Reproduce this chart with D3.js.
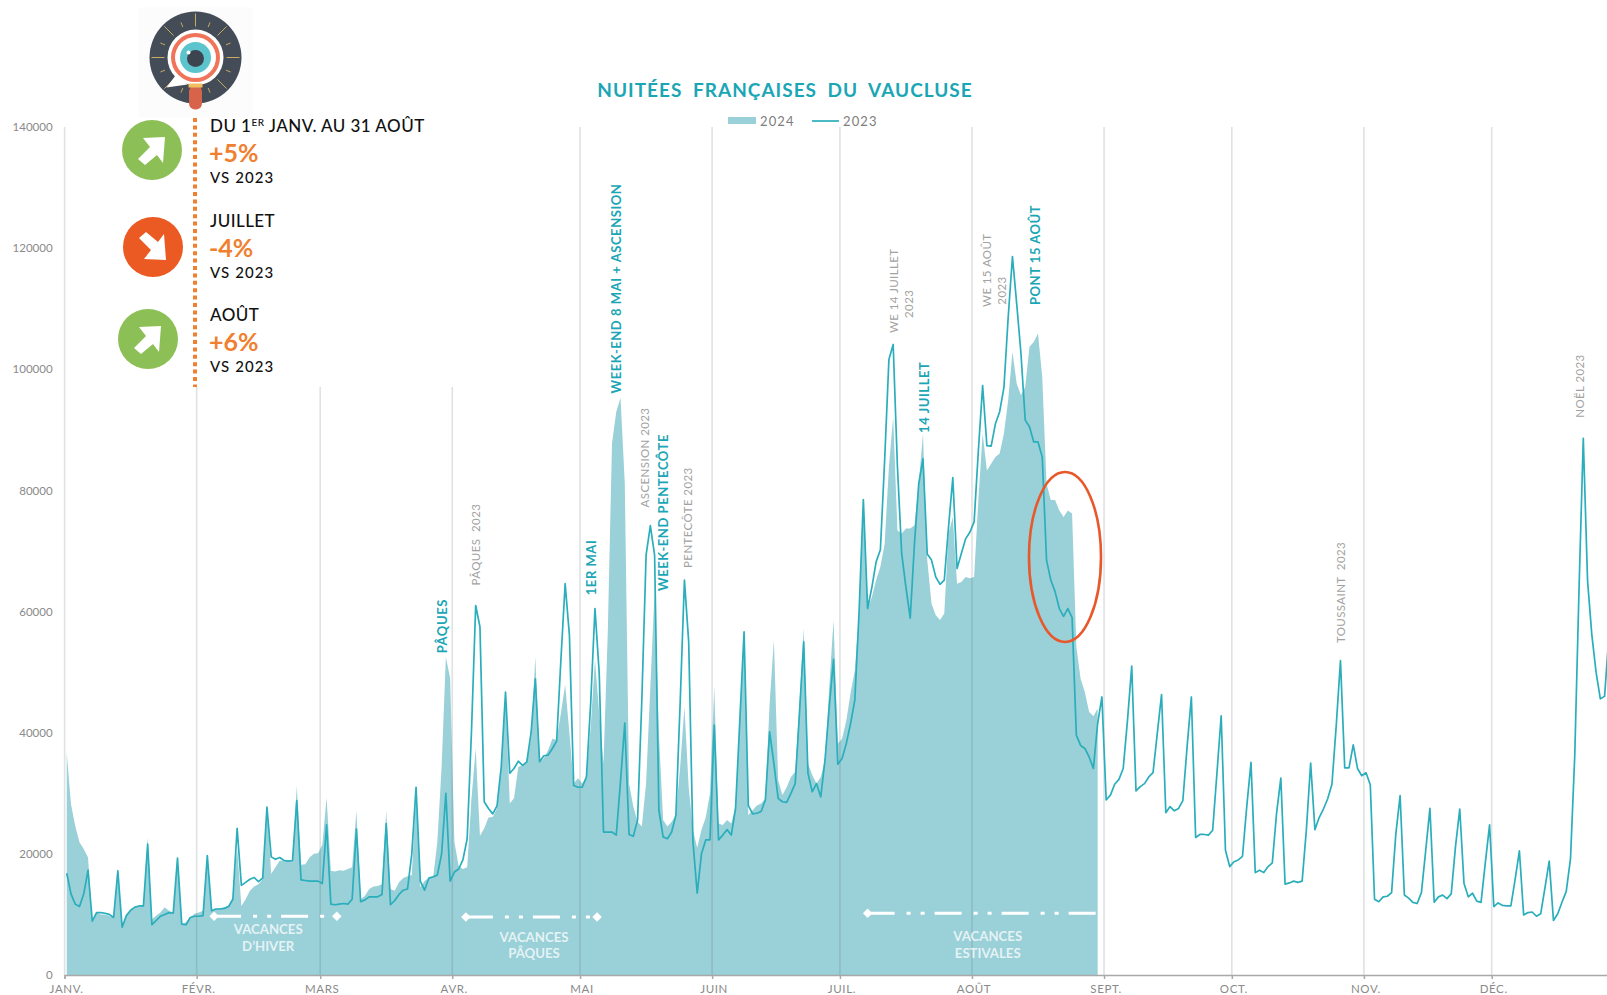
<!DOCTYPE html>
<html><head><meta charset="utf-8">
<script src="https://cdn.jsdelivr.net/npm/d3@7/dist/d3.min.js"></script>
<style>html,body{margin:0;padding:0;background:#fff;overflow:hidden}svg{display:block}text{font-family:Lato,"Open Sans",sans-serif}</style>
</head><body><div id="c"></div>
<script>
// Daily values, index 0 = 1 Jan
const line2023 = [16800,13400,11700,11300,13400,17300,8900,10300,10300,10200,10000,9500,17200,7900,9800,10700,11200,11400,11400,21600,8300,9000,9700,10000,10300,10200,19300,8400,8300,9500,9700,9700,9800,19700,10600,10900,10900,11000,11300,12500,24200,14800,15300,15800,16100,15400,16000,27700,19500,19100,19400,18900,18800,18900,28800,15700,15600,15500,15500,15500,15100,24800,11700,11600,11700,11800,11700,12500,24100,12100,12400,12900,12900,12900,13300,25000,11600,12300,13300,14000,14200,20000,31000,15500,14000,16000,16200,16500,20000,30000,15500,17000,17500,19000,22500,40000,61000,57500,28600,27500,26600,27900,34400,46700,33300,34100,35300,34600,35200,40000,48900,35200,36200,36300,37400,38600,52000,64600,56100,31300,31000,31000,32700,45000,60500,49800,23600,23600,23600,23100,32000,41600,23200,22900,25600,45400,69300,74200,69300,27200,22800,22500,23600,26400,45000,65200,55000,22000,13500,20000,22300,22300,41250,22300,23100,24000,23100,27500,42000,56650,28000,26600,26700,27000,28900,40150,34900,29150,28600,28500,30000,31600,43200,55000,33300,30250,31600,29400,35500,44300,52100,34800,35750,38200,41500,45400,60000,78500,60500,64000,68200,70200,85000,101600,104100,83900,69600,64000,58900,71200,81100,85200,69500,68500,65700,64500,65200,74000,82100,67100,69600,72000,73100,74800,86600,97300,87400,87300,91000,93000,97000,108600,118600,110800,102600,91600,90500,88000,88000,85500,68500,65200,63300,60500,59200,60500,59000,39600,37900,37400,36000,34100,41500,45900,28900,29700,31500,32300,34100,42000,51000,30400,31100,31600,32700,33400,39900,46300,26800,27800,27100,27500,28800,37700,45900,22700,23200,23200,23100,23900,33300,42800,20600,17900,18700,19000,19600,27800,35100,16900,17300,16900,17900,18500,26700,32500,15000,15200,15500,15300,15500,24000,35000,24000,26000,27400,29100,31500,41100,51900,34200,34200,38000,34100,32900,33400,31400,12500,12100,12900,13000,13600,23300,29600,13200,12700,12000,11800,13600,20500,27500,12000,12900,13200,12600,13400,21200,27400,15100,12900,13500,12200,12000,18500,24800,11300,11900,11500,11400,11400,15800,20500,9900,10300,10400,9700,10100,14400,18800,9000,10100,12000,13800,19200,36300,63700,88600,65100,56200,50000,45600,46000,56000];
const area2024 = [36700,28200,24600,21900,20800,19400,8900,10300,10000,10000,9800,9500,16700,7900,9800,10600,11100,11400,11400,22700,9200,9800,10300,11200,10600,10300,18600,8400,8700,9500,10100,10300,10600,19400,10700,10900,11000,11200,11400,12800,21000,11400,12500,13900,14600,15000,15800,27900,16700,17800,18900,18800,18900,18900,31200,18200,18300,19400,20000,20100,21500,29300,17200,17100,17300,17200,17500,17800,27100,12500,13100,14200,14600,14700,15000,27100,14200,13900,15300,16000,16300,16500,30000,14500,15500,16000,16000,22000,34400,52500,49000,22000,18000,17500,17800,29000,37400,23000,24200,26000,26100,27500,34000,45900,28300,29200,34400,34600,35200,39000,52500,35200,35800,37100,39000,38800,43200,47900,39900,31600,32500,31600,32700,41000,52000,43200,34900,56400,87800,93000,95300,81200,31600,27800,25300,24500,31600,47600,63500,39900,25600,24500,25300,26400,34400,44300,31000,23900,21000,24000,26000,30000,47600,25000,24750,25600,25000,27800,42000,56650,26400,27200,28000,28300,29150,44800,55300,32200,29700,31000,32700,33550,44800,57200,34900,33000,31600,32700,35500,47600,58600,38200,39000,42000,46500,50300,60000,78000,60500,62400,65200,67400,71200,83900,92100,73400,72900,73700,73700,74250,81100,89400,68500,61300,59400,58600,59700,72900,75600,64600,64900,65700,65500,65700,78400,89400,83300,84400,85500,86100,89400,94900,102900,97600,95700,97100,103700,104500,105900,98700,81100,78400,78400,76700,75600,76700,76200,54200,48900,46700,43400,42700,44000];
const monthStarts = [0,31,60,91,121,152,182,213,244,274,305,335];
const monthLabels = ["JANV.","FÉVR.","MARS","AVR.","MAI","JUIN","JUIL.","AOÛT","SEPT.","OCT.","NOV.","DÉC."];
const yTicks = [0,20000,40000,60000,80000,100000,120000,140000];
const holidays = [
  {text:"PÂQUES",day:88,value:53100,strong:true},
  {text:"PÂQUES  2023",day:96,value:64300},
  {text:"1ER MAI",day:123,value:62700,strong:true},
  {text:"WEEK-END 8 MAI + ASCENSION",day:129,value:96000,strong:true},
  {text:"ASCENSION 2023",day:135.7,value:77200},
  {text:"WEEK-END PENTECÔTE",day:140,value:63400,strong:true},
  {text:"PENTECÔTE 2023",day:145.7,value:67200},
  {text:"WE 14 JUILLET",day:194,value:106000},
  {text:"2023",day:197.6,value:110800,mid:true},
  {text:"14 JUILLET",day:201.2,value:89500,strong:true},
  {text:"WE 15 AOÛT",day:216,value:110300},
  {text:"2023",day:219.5,value:113000,mid:true},
  {text:"PONT 15 AOÛT",day:227.3,value:110600,strong:true},
  {text:"TOUSSAINT  2023",day:299,value:54800},
  {text:"NOËL 2023",day:355,value:92000}
];
const holidaySpans = [
  {lines:["VACANCES","D’HIVER"],from:34.6,to:63.4,value:9700,mid:47.3,v1:7600,v2:4800,ends:2},
  {lines:["VACANCES","PÂQUES"],from:93.7,to:124.5,value:9570,mid:109.7,v1:6350,v2:3600,ends:2},
  {lines:["VACANCES","ESTIVALES"],from:188,to:242,value:10200,mid:216.2,v1:6400,v2:3600,ends:1}
];
const seriesNames = ["2024","2023"];

const W=1607,H=995;
const svg=d3.select("#c").append("svg").attr("width",W).attr("height",H);
const x=d3.scaleLinear().domain([0,366]).range([64.6,64.6+366*4.26]);
const y=d3.scaleLinear().domain([0,140000]).range([975,127]);
const px=i=>x(i+0.5);

svg.append("path").datum(area2024).attr("fill","#9ad0d8")
  .attr("d",d3.area().x((d,i)=>px(i)).y0(y(0)).y1(d=>y(d)));

// month grid
svg.append("g").selectAll("line").data(monthStarts).join("line")
  .attr("x1",d=>x(d)).attr("x2",d=>x(d)).attr("y1",y(140000)).attr("y2",y(0))
  .attr("stroke","#5f6a6e").attr("stroke-opacity",.2).attr("stroke-width",1.6);

svg.append("path").datum(line2023).attr("fill","none").attr("stroke","#2aaebb").attr("stroke-width",1.7)
  .attr("stroke-linejoin","round")
  .attr("d",d3.line().x((d,i)=>px(i)).y(d=>y(d)));

// axes
const gx=svg.append("g").attr("transform",`translate(0,${y(0)})`)
  .call(d3.axisBottom(x).tickValues(monthStarts).tickFormat((d,i)=>monthLabels[i]).tickSize(4).tickPadding(6));
gx.selectAll("path,line").attr("stroke","#a9a9a9").attr("stroke-width",1.5);
gx.selectAll("text").attr("dx",1.5).attr("fill","#8a8a8a").style("font-size","11.5px").style("letter-spacing",".6px");
const gy=svg.append("g").attr("transform",`translate(${x(0)},0)`)
  .call(d3.axisLeft(y).tickValues(yTicks).tickFormat(d3.format("d")).tickSize(0).tickPadding(12));
gy.select("path").remove();
gy.selectAll("text").attr("fill","#8a8a8a").style("font-size","11.5px");

// panel mask
svg.append("rect").attr("x",72).attr("y",0).attr("width",400).attr("height",387).attr("fill","#fff");

// title & legend
svg.append("text").attr("x",785).attr("y",97).attr("text-anchor","middle").attr("fill","#1ba6b5")
  .style("font-size","19px").style("font-weight",700).style("letter-spacing","1px").style("word-spacing","5px")
  .text("NUITÉES FRANÇAISES DU VAUCLUSE");
svg.append("rect").attr("x",728).attr("y",117).attr("width",28).attr("height",7).attr("fill","#9ad0d8");
svg.append("line").attr("x1",812).attr("x2",839).attr("y1",121).attr("y2",121).attr("stroke","#2aaebb").attr("stroke-width",1.7);
svg.selectAll(".lg").data(seriesNames).join("text").attr("class","lg").attr("x",(d,i)=>i?843:760).attr("y",126)
  .attr("fill","#7d7d7d").style("font-size","13px").style("letter-spacing","1.1px").text(d=>d);

// holiday labels
holidays.forEach(h=>{
  svg.append("text").attr("transform",`translate(${px(h.day)},${y(h.value)}) rotate(-90)`)
    .attr("text-anchor",h.mid?"middle":"start").attr("dominant-baseline","central")
    .attr("fill",h.strong?"#1ba6b5":"#a2a2a2")
    .style("font-size",h.strong?"13px":"11.5px").style("font-weight",h.strong?700:400)
    .style("letter-spacing",h.strong?".55px":".4px").style("white-space","pre").text(h.text);
});

// holiday spans
const diamond=d3.symbol(d3.symbolSquare,45)();
holidaySpans.forEach(s=>{
  const a=px(s.from),b=px(s.to),yy=y(s.value);
  svg.append("line").attr("x1",a).attr("x2",b).attr("y1",yy).attr("y2",yy).attr("stroke","#fff").attr("stroke-width",3)
    .attr("stroke-dasharray","27 12 4 10 4 10");
  svg.append("path").attr("d",diamond).attr("fill","#fff").attr("transform",`translate(${a},${yy}) rotate(45)`);
  if(s.ends>1)svg.append("path").attr("d",diamond).attr("fill","#fff").attr("transform",`translate(${b},${yy}) rotate(45)`);
  s.lines.forEach((t,i)=>svg.append("text").attr("x",px(s.mid)).attr("y",y(i?s.v2:s.v1)).attr("text-anchor","middle")
    .attr("dominant-baseline","central").attr("fill","#fff").attr("fill-opacity",.75).style("font-size","13.2px").style("font-weight",700).text(t));
});

// red ellipse
svg.append("ellipse").attr("cx",1065).attr("cy",557).attr("rx",36).attr("ry",85).attr("fill","none").attr("stroke","#e8582a").attr("stroke-width",2.6);

// logo
const logo=svg.append("g").attr("transform","translate(195.5,57.5)");
logo.append("rect").attr("x",-57).attr("y",-50).attr("width",114).attr("height",110).attr("fill","#fcfcfc");
logo.append("circle").attr("r",46).attr("fill","#434c57");
d3.range(0,360,22.5).forEach((a,i)=>{
  const r=a*Math.PI/180,r0=i%2?33:31,r1=i%2?38:44;
  logo.append("line").attr("x1",r0*Math.cos(r)).attr("y1",r0*Math.sin(r)).attr("x2",r1*Math.cos(r)).attr("y2",r1*Math.sin(r))
    .attr("stroke","#c9ab62").attr("stroke-width",1);
});
logo.append("path").attr("d","M-20,18 L-29,30 L-8,27 Z").attr("fill","#fff");
logo.append("circle").attr("r",28).attr("fill","#fff");
logo.append("circle").attr("r",24.5).attr("fill","#f0745a");
logo.append("circle").attr("r",20.5).attr("fill","#fff");
logo.append("circle").attr("r",15.5).attr("fill","#5cc4cc");
logo.append("circle").attr("cy",1).attr("r",8.5).attr("fill","#3c4450");
logo.append("circle").attr("cx",-7).attr("cy",-5).attr("r",2).attr("fill","#fff");
logo.append("rect").attr("x",-6.5).attr("y",28).attr("width",13).attr("height",24).attr("rx",6).attr("fill","#d8634b");
logo.append("rect").attr("x",-7).attr("y",26).attr("width",14).attr("height",4).attr("fill","#f0c060");

// dotted rule
svg.append("line").attr("x1",195).attr("x2",195).attr("y1",118).attr("y2",387).attr("stroke","#f08030").attr("stroke-width",4).attr("stroke-dasharray","4 3.4");

// KPI blocks
const kpis=[
 {label:"DU 1|ER| JANV. AU 31 AOÛT",pct:"+5%",up:true,cx:152,cy:150,b0:132,b1:162,b2:183},
 {label:"JUILLET",pct:"-4%",up:false,cx:153,cy:247,b0:227,b1:257,b2:278},
 {label:"AOÛT",pct:"+6%",up:true,cx:148,cy:339,b0:321,b1:351,b2:372}];
const arrow="M13,-13 L11,13 L5,5 L-7,15 L-14,9 L-2,-3 L-9,-12 Z";
kpis.forEach(k=>{
  const g=svg.append("g").attr("transform",`translate(${k.cx},${k.cy})`);
  g.append("circle").attr("r",30).attr("fill",k.up?"#8cc056":"#ea5a22");
  g.append("path").attr("d",arrow).attr("fill","#fff").attr("transform",k.up?null:"scale(1,-1)");
  const t=svg.append("text").attr("x",210).attr("y",k.b0).attr("fill","#111").style("font-size","17px").style("font-weight",500).style("letter-spacing",".45px");
  k.label.split("|").forEach((p,i)=>{
    const s=t.append("tspan").text(p);
    if(i===1)s.style("font-size","10px").attr("dy",-6);
    if(i===2)s.attr("dy",6);
  });
  svg.append("text").attr("x",209).attr("y",k.b1).attr("fill","#f08030").style("font-size","25px").style("font-weight",700).text(k.pct);
  svg.append("text").attr("x",210).attr("y",k.b2).attr("fill","#111").style("font-size","15px").style("font-weight",500).style("letter-spacing","1.1px").text("VS 2023");
});
</script></body></html>
